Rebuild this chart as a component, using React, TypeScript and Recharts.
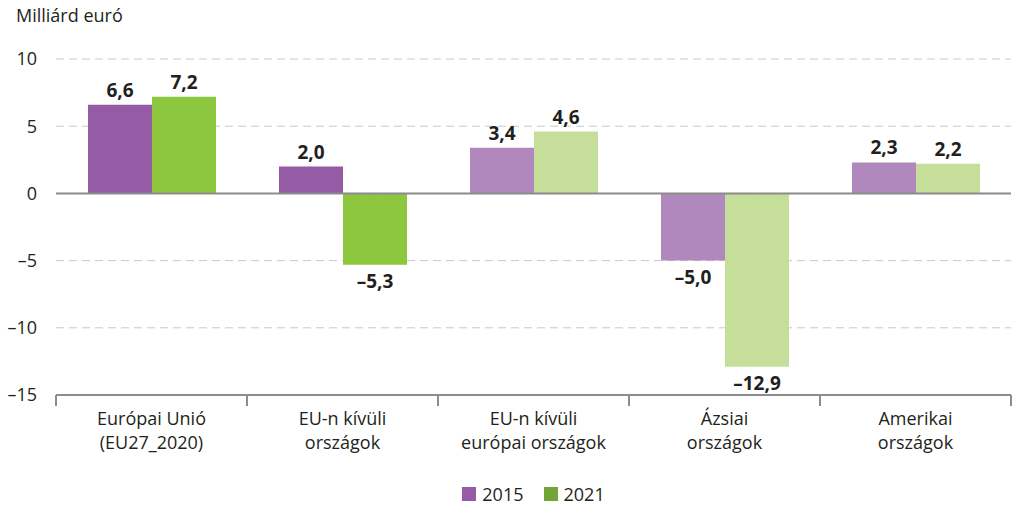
import { BarChart, Bar, XAxis, YAxis, CartesianGrid, ReferenceLine, Legend, LabelList, Cell } from 'recharts';

const CATEGORIES = [
  ['Európai Unió', '(EU27_2020)'],
  ['EU-n kívüli', 'országok'],
  ['EU-n kívüli', 'európai országok'],
  ['Ázsiai', 'országok'],
  ['Amerikai', 'országok'],
];
const Y2015 = [6.6, 2.0, 3.4, -5.0, 2.3];
const Y2021 = [7.2, -5.3, 4.6, -12.9, 2.2];
const Y_TICKS = [10, 5, 0, -5, -10, -15];

const FONT = '"Open Sans", "Noto Sans", sans-serif';
const FS = 18;
const W = 1014;
const H = 507;
const MARGIN = { top: 59, right: 3, bottom: 0, left: 0 };
const Y_AXIS_W = 56;
const BAND = (W - MARGIN.left - MARGIN.right - Y_AXIS_W) / CATEGORIES.length;
const DARK_COUNT = 2; // first two groups drawn in strong colours

const PURPLE = '#955ba5';
const PURPLE_LIGHT = '#b088bd';
const GREEN = '#8dc63f';
const GREEN_LIGHT = '#c5df9b';
const AXIS = '#8c8c8c';

const data = CATEGORIES.map((c, i) => ({ name: c.join('|'), y2015: Y2015[i], y2021: Y2021[i] }));

const fmt = (v: number) => (v < 0 ? '–' : '') + Math.abs(v).toFixed(1).replace('.', ',');

function ValueLabel(props: any) {
  const { x, y, width, height, value } = props;
  const top = Math.min(y, y + height);
  const bottom = Math.max(y, y + height);
  const cx = x + width / 2;
  const neg = value < 0;
  return (
    <text
      x={cx}
      y={neg ? bottom + 23 : top - 8}
      textAnchor="middle"
      fontFamily={FONT}
      fontWeight={700}
      fontSize={19}
      fill="#231f20"
    >
      {fmt(value)}
    </text>
  );
}

function CategoryTick(props: any) {
  const { x, y, payload, index } = props;
  const lines = String(payload.value).split('|');
  const left = x - BAND / 2;
  return (
    <g>
      <line x1={left} x2={left} y1={y} y2={y + 11} stroke={AXIS} strokeWidth={2} />
      {index === CATEGORIES.length - 1 && (
        <line x1={x + BAND / 2} x2={x + BAND / 2} y1={y} y2={y + 11} stroke={AXIS} strokeWidth={2} />
      )}
      {lines.map((l, i) => (
        <text key={i} x={x} y={y + 30 + i * 24} textAnchor="middle" fontFamily={FONT} fontSize={FS} fill="#231f20">
          {l}
        </text>
      ))}
    </g>
  );
}

function LegendContent() {
  const items = [
    { label: '2015', color: PURPLE },
    { label: '2021', color: '#74a33a' },
  ];
  return (
    <div style={{ display: 'flex', justifyContent: 'center', gap: 20, fontFamily: FONT, fontSize: FS, color: '#231f20' }}>
      {items.map((it) => (
        <div key={it.label} style={{ display: 'flex', alignItems: 'center', gap: 6 }}>
          <span style={{ display: 'inline-block', width: 14, height: 14, background: it.color }} />
          <span>{it.label}</span>
        </div>
      ))}
    </div>
  );
}

export default function App() {
  return (
    <div style={{ position: 'absolute', left: 0, top: 0, width: W, height: H, background: '#fff' }}>
      <div style={{ position: 'absolute', left: 16, top: 3, fontFamily: FONT, fontSize: FS, color: '#231f20' }}>
        Milliárd euró
      </div>
      <BarChart width={W} height={H} data={data} margin={MARGIN} barGap={0} barCategoryGap={32}>
        <CartesianGrid vertical={false} stroke="#c8c8c8" strokeDasharray="8 5" />
        <XAxis
          dataKey="name"
          height={88}
          axisLine={{ stroke: AXIS, strokeWidth: 2 }}
          tickLine={false}
          tickSize={0}
          tickMargin={0}
          interval={0}
          tick={<CategoryTick />}
        />
        <YAxis
          width={Y_AXIS_W}
          domain={[-15, 10]}
          ticks={Y_TICKS}
          axisLine={false}
          tickLine={false}
          tickMargin={13}
          tickFormatter={(v: number) => (v < 0 ? '–' + Math.abs(v) : String(v))}
          tick={{ fontFamily: FONT, fontSize: FS, fill: '#231f20' }}
        />
        <ReferenceLine y={0} stroke={AXIS} strokeWidth={2} />
        <Legend
          content={<LegendContent />}
          wrapperStyle={{ position: 'absolute', top: 482, left: MARGIN.left + Y_AXIS_W, width: W - Y_AXIS_W - MARGIN.right }}
        />
        <Bar dataKey="y2015" name="2015" isAnimationActive={false}>
          {data.map((_, i) => (
            <Cell key={i} fill={i < DARK_COUNT ? PURPLE : PURPLE_LIGHT} />
          ))}
          <LabelList dataKey="y2015" content={<ValueLabel />} />
        </Bar>
        <Bar dataKey="y2021" name="2021" isAnimationActive={false}>
          {data.map((_, i) => (
            <Cell key={i} fill={i < DARK_COUNT ? GREEN : GREEN_LIGHT} />
          ))}
          <LabelList dataKey="y2021" content={<ValueLabel />} />
        </Bar>
      </BarChart>
    </div>
  );
}
